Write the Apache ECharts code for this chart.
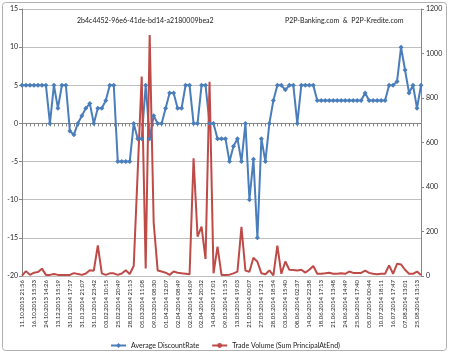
<!DOCTYPE html>
<html>
<head>
<meta charset="utf-8">
<script src="https://cdn.jsdelivr.net/npm/echarts@6/dist/echarts.min.js"></script>
<style>
html, body { margin: 0; padding: 0; background: #fff; }
#chart { width: 450px; height: 354px; }
</style>
</head>
<body>
<div id="chart"></div>
<script>
// labels shown on the category axis (every 3rd trade)
const tickLabels = [
  '11.10.2013 21:56', '16.10.2013 15:33', '24.10.2013 14:26', '13.12.2013 15:19',
  '31.01.2014 17:17', '31.01.2014 21:07', '31.01.2014 23:42', '03.02.2014 10:15',
  '25.02.2014 20:49', '28.02.2014 21:13', '05.03.2014 11:08', '09.03.2014 08:30',
  '01.04.2014 12:07', '02.04.2014 08:49', '02.04.2014 14:09', '02.04.2014 20:32',
  '14.04.2014 17:01', '09.05.2014 11:53', '13.05.2014 19:03', '21.05.2014 00:07',
  '27.05.2014 17:21', '28.05.2014 18:54', '03.06.2014 15:40', '08.06.2014 02:37',
  '14.06.2014 22:38', '18.06.2014 17:13', '21.06.2014 13:48', '24.06.2014 14:49',
  '25.06.2014 17:40', '05.07.2014 00:44', '10.07.2014 18:11', '16.07.2014 17:47',
  '07.08.2014 13:01', '25.08.2014 13:13'
]

// Average DiscountRate (left axis)
const discountRate = [
  5, 5, 5, 5, 5, 5, 5, 0, 5, 2,
  5, 5, -1, -1.5, 0, 1, 2, 2.6, 0, 2,
  2, 3, 5, 5, -5, -5, -5, -5, 0, -2,
  -2, 5, -2, 1, 0, 0, 2, 4, 4, 2,
  2, 5, 5, 0, 0, 5, 5, 0, 0, -2,
  -2, -2, -5, -3, -2, -5, 0, -10, -4.7, -15,
  -2, -5, 0, 3, 5, 5, 4.4, 5, 5, 0,
  5, 5, 5, 5, 3, 3, 3, 3, 3, 3,
  3, 3, 3, 3, 3, 3, 4, 3, 3, 3,
  3, 3, 5, 5, 5.5, 10, 7, 4, 5, 2,
  5
]

// Trade Volume (Sum PrincipalAtEnd), right axis
const tradeVolume = [
  2, 22, 5, 15, 18, 33, 5, 5, 9, 5,
  5, 5, 5, 13, 9, 5, 11, 26, 24, 138,
  12, 5, 12, 12, 5, 11, 26, 9, 45, 470,
  896, 34, 1083, 240, 25, 20, 15, 5, 20, 15,
  12, 10, 8, 529, 177, 222, 76, 873, 12, 132,
  5, 4, 6, 12, 20, 221, 24, 19, 82, 64,
  12, 8, 25, 3, 137, 10, 65, 28, 27, 25,
  28, 15, 28, 45, 10, 10, 12, 15, 10, 10,
  12, 10, 20, 14, 14, 14, 24, 14, 10, 8,
  10, 10, 48, 10, 55, 52, 28, 10, 10, 20,
  4
]

const categories = discountRate.map((v, i) => (i % 3 === 0 ? tickLabels[i / 3] : ''))

const fontName = 'Lato'
const axisGrey = '#868686'
const txt = '#262626'

const chart = echarts.init(document.getElementById('chart'), null, { renderer: 'canvas' })

chart.setOption({
  animation: false,
  backgroundColor: '#fff',
  textStyle: { fontFamily: fontName },
  title: [
    {
      text: '2b4c4452-96e6-41de-bd14-a2180009bea2',
      left: 72, top: 12,
      textStyle: { fontSize: 7, fontWeight: 'normal', color: '#1a1a1a', fontFamily: fontName }
    },
    {
      text: 'P2P-Banking.com  &  P2P-Kredite.com',
      left: 280, top: 12,
      textStyle: { fontSize: 7, fontWeight: 'normal', color: '#1a1a1a', fontFamily: fontName }
    }
  ],
  legend: {
    top: 337,
    left: 'center',
    itemWidth: 15,
    itemHeight: 6,
    itemGap: 12,
    textStyle: { fontSize: 7, color: '#1a1a1a', fontFamily: fontName },
    data: ['Average DiscountRate', 'Trade Volume (Sum PrincipalAtEnd)']
  },
  grid: { left: 22, right: 29, top: 9, bottom: 78 },
  xAxis: [
    {
      type: 'category',
      data: categories,
      boundaryGap: false,
      position: 'bottom',
      axisLine: { show: false, onZero: false },
      axisTick: { show: false },
      axisLabel: { interval: 2, rotate: 90, fontSize: 6, margin: 4, color: txt, fontFamily: fontName }
    },
    {
      // the axis line that crosses at 0 with a tick for every trade
      type: 'category',
      data: categories,
      boundaryGap: false,
      position: 'bottom',
      axisLine: { show: true, onZero: true, onZeroAxisIndex: 0, lineStyle: { color: axisGrey, width: 1 } },
      axisTick: { show: true, interval: 0, length: 3, lineStyle: { color: axisGrey } },
      axisLabel: { show: false },
      splitLine: { show: false }
    }
  ],
  yAxis: [
    {
      type: 'value',
      position: 'left',
      min: -20, max: 15, interval: 5,
      axisLine: { show: true, lineStyle: { color: axisGrey } },
      axisTick: { show: true, length: 3, lineStyle: { color: axisGrey } },
      axisLabel: { fontSize: 7, margin: 4, color: txt, fontFamily: fontName },
      splitLine: { show: true, lineStyle: { color: '#c0c0c0', width: 1 } }
    },
    {
      type: 'value',
      position: 'right',
      min: 0, max: 1200, interval: 200,
      axisLine: { show: true, lineStyle: { color: axisGrey } },
      axisTick: { show: true, length: 3, lineStyle: { color: axisGrey } },
      axisLabel: { fontSize: 7, margin: 5, color: txt, fontFamily: fontName, formatter: v => String(v) },
      splitLine: { show: false }
    }
  ],
  series: [
    {
      name: 'Average DiscountRate',
      type: 'line',
      xAxisIndex: 0,
      yAxisIndex: 0,
      data: discountRate,
      symbol: 'diamond',
      symbolSize: 5,
      showAllSymbol: true,
      lineStyle: { color: '#4a7ebb', width: 2 },
      itemStyle: { color: '#4a7ebb' }
    },
    {
      name: 'Trade Volume (Sum PrincipalAtEnd)',
      type: 'line',
      xAxisIndex: 0,
      yAxisIndex: 1,
      data: tradeVolume,
      symbol: 'none',
      lineStyle: { color: '#be4b48', width: 2 },
      itemStyle: { color: '#be4b48' }
    }
  ],
  graphic: [
    {
      type: 'rect',
      shape: { x: 2.5, y: 2.5, width: 444, height: 348, r: 3 },
      style: { fill: 'none', stroke: '#b0b0b0', lineWidth: 1 },
      silent: true
    }
  ]
})
</script>
</body>
</html>
